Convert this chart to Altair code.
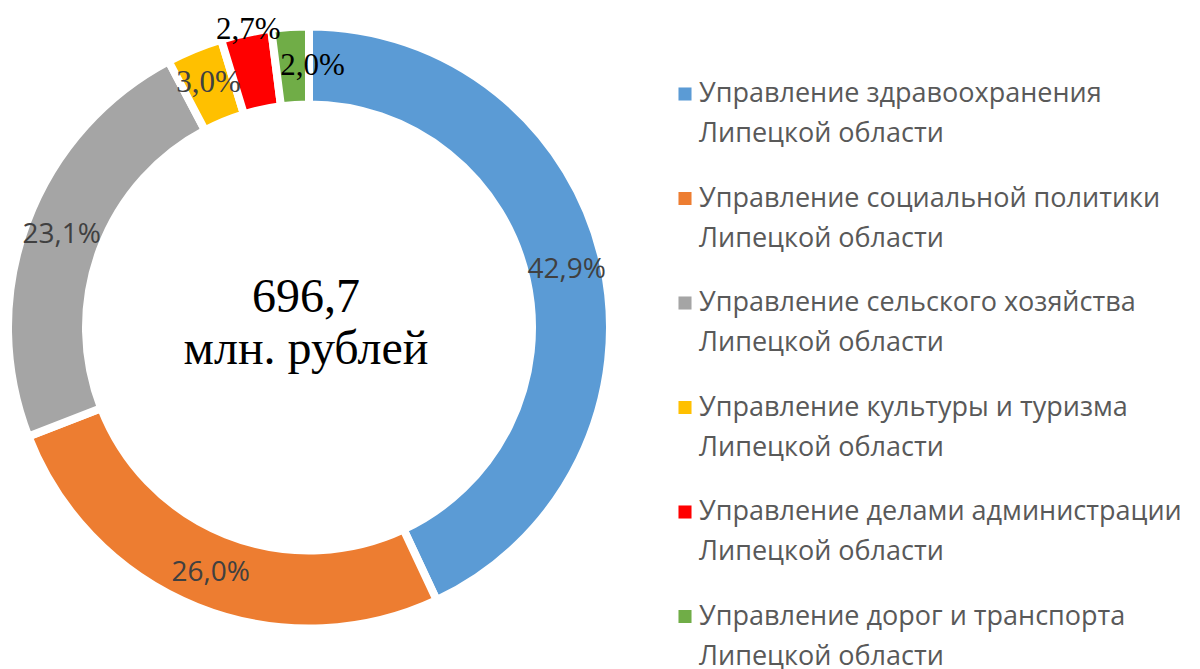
import altair as alt
import pandas as pd

categories = [
    "Управление здравоохранения",
    "Управление социальной политики",
    "Управление сельского хозяйства",
    "Управление культуры и туризма",
    "Управление делами администрации",
    "Управление дорог и транспорта",
]
region_line = "Липецкой области"
values = [42.9, 26.0, 23.1, 3.0, 2.7, 2.0]
labels = ["42,9%", "26,0%", "23,1%", "3,0%", "2,7%", "2,0%"]
colors = ["#5B9BD5", "#ED7D31", "#A5A5A5", "#FFC000", "#FF0000", "#70AD47"]
center_lines = ["696,7", "млн. рублей"]

df = pd.DataFrame({
    "cat": categories,
    "value": values,
    "label": labels,
    "idx": list(range(len(categories))),
    "legend": [c + "\n" + region_line for c in categories],
})

CX, CY = 301, 319.5  # plot coords (page minus 8px margin)

color_scale = alt.Scale(domain=categories, range=colors)
base = alt.Chart(df)

theta = alt.Theta("value:Q", stack=True)
order = alt.Order("idx:Q")

arcs = base.mark_arc(outerRadius=301, innerRadius=223, stroke="white", strokeWidth=8).encode(
    theta=theta, order=order,
    color=alt.Color("cat:N", scale=color_scale, legend=None),
    x=alt.value(CX), y=alt.value(CY),
)


def pct_layer(cond, radius, font, size, color, dx=0, dy=0):
    return base.mark_text(
        radius=radius, font=font, fontSize=size, color=color, dx=dx, dy=dy
    ).encode(
        theta=theta, order=order,
        text=alt.condition(cond, "label:N", alt.value("")),
        x=alt.value(CX), y=alt.value(CY),
    )


big_labels = pct_layer("datum.idx < 3", 264, "Open Sans", 28, "#404040")
yellow_label = pct_layer("datum.idx == 3", 264, "Liberation Serif", 31, "#404040")
red_label = pct_layer("datum.idx == 4", 304, "Liberation Serif", 31, "#000000", dx=3)
green_label = pct_layer("datum.idx == 5", 262, "Liberation Serif", 31, "#000000", dx=20)

center_df = pd.DataFrame({"t": center_lines, "i": [0, 1]})
center_text = alt.Chart(center_df).transform_calculate(
    py="290 + datum.i * 52"
).mark_text(font="Liberation Serif", fontSize=48, color="#000000", baseline="middle").encode(
    x=alt.value(298),
    y=alt.Y("py:Q", scale=None),
    text="t:N",
)

legend_base = base.transform_calculate(ly="86 + datum.idx * 104.5")
legend_sq = legend_base.mark_square(size=170, opacity=1).encode(
    x=alt.value(677),
    y=alt.Y("ly:Q", scale=None),
    color=alt.Color("cat:N", scale=color_scale, legend=None),
)
legend_txt = legend_base.mark_text(
    align="left", baseline="middle", font="Open Sans", fontSize=27,
    color="#595959", lineBreak="\n", lineHeight=40,
).encode(
    x=alt.value(691),
    y=alt.Y("ly:Q", scale=None),
    text="legend:N",
)

chart = alt.layer(
    arcs, big_labels, yellow_label, red_label, green_label, center_text, legend_sq, legend_txt
).properties(
    width=1184, height=661, padding=0,
    autosize=alt.AutoSizeParams(type="none"),
).configure_view(stroke=None)

chart.save("out.html", embed_options={"renderer": "svg", "actions": False})
